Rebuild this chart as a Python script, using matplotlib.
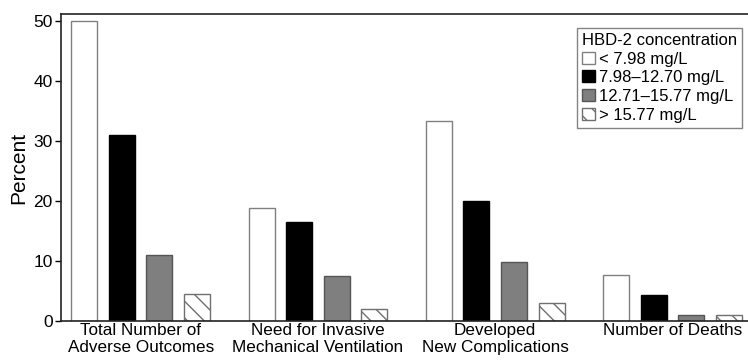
import matplotlib
matplotlib.use("Agg")
import matplotlib.pyplot as plt
import numpy as np

plt.rcParams['font.family'] = ['Liberation Sans', 'DejaVu Sans']
plt.rcParams['hatch.linewidth'] = 1.0

categories = ["Total Number of\nAdverse Outcomes",
              "Need for Invasive\nMechanical Ventilation",
              "Developed\nNew Complications",
              "Number of Deaths"]
series_labels = ["< 7.98 mg/L", "7.98\u201312.70 mg/L", "12.71\u201315.77 mg/L", "> 15.77 mg/L"]
s_low = [50.0, 18.9, 33.3, 7.7]
s_mid = [31.1, 16.6, 20.0, 4.3]
s_high = [11.1, 7.6, 9.9, 1.1]
s_top = [4.5, 2.1, 3.1, 1.0]
yticks = [0, 10, 20, 30, 40, 50]

fig = plt.figure(figsize=(7.48, 3.6), dpi=100)
ax = fig.add_axes([0.0816, 0.108, 0.918, 0.853])

x = np.arange(len(categories))
step = 0.212
width = 0.146
styles = [
    dict(facecolor="white", edgecolor="#808080", hatch=None),
    dict(facecolor="black", edgecolor="black", hatch=None),
    dict(facecolor="#7f7f7f", edgecolor="#555555", hatch=None),
    dict(facecolor="white", edgecolor="#707070", hatch="\\\\"),
]
series = [s_low, s_mid, s_high, s_top]
handles = []
for i, (vals, st, lab) in enumerate(zip(series, styles, series_labels)):
    b = ax.bar(x + (i - 1.5) * step, vals, width, label=lab, linewidth=1.0, **st)
    handles.append(b)

ax.set_xlim(-0.449, 3.424)
ax.set_ylim(0, 51.2)
ax.set_yticks(yticks)
ax.set_xticks(x)
ax.set_xticklabels(categories, fontsize=12.3, linespacing=1.2)
ax.tick_params(axis='x', length=0, pad=1)
ax.tick_params(axis='y', labelsize=12.5, length=4, width=1, direction='out', pad=2)
ax.set_ylabel("Percent", fontsize=15, labelpad=4)
for s in ['left', 'top', 'bottom']:
    ax.spines[s].set_linewidth(1.2)
    ax.spines[s].set_color("#222222")
ax.spines['right'].set_visible(False)

leg = ax.legend(handles=handles, title="HBD-2 concentration", loc="upper right",
                bbox_to_anchor=(0.992, 0.955), fontsize=12, title_fontsize=12,
                frameon=True, fancybox=False, handlelength=0.75, handleheight=0.75,
                handletextpad=0.25, borderpad=0.3, labelspacing=0.22, borderaxespad=0)
leg.get_frame().set_edgecolor("#666666")
leg.get_frame().set_linewidth(1.0)
leg._legend_box.align = "left"

fig.savefig("out.png", dpi=100)
